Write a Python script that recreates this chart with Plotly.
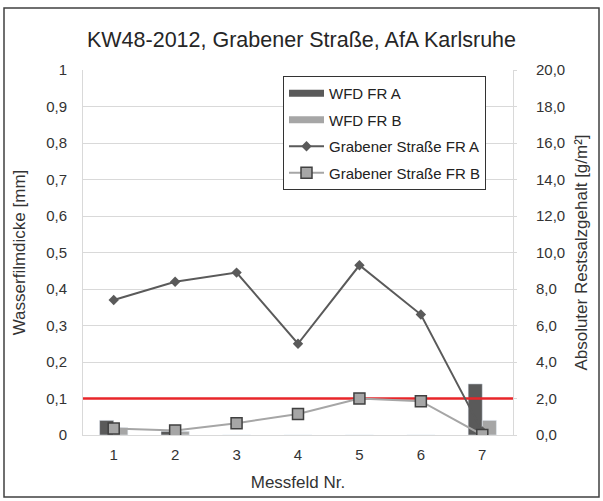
import plotly.graph_objects as go

# ---- data ----
messfeld = [1, 2, 3, 4, 5, 6, 7]
wfd_fr_a = [0.04, 0.01, 0.0, 0.0, 0.0, 0.0, 0.14]        # mm (left axis)
wfd_fr_b = [0.02, 0.01, 0.0, 0.0, 0.0, 0.0, 0.04]        # mm (left axis)
salz_fr_a = [7.4, 8.4, 8.9, 5.0, 9.3, 6.6, 0.2]          # g/m² (right axis)
salz_fr_b = [0.35, 0.25, 0.65, 1.15, 2.0, 1.85, 0.0]     # g/m² (right axis)
grenzwert_mm = 0.1

left_ticks = [0, 0.1, 0.2, 0.3, 0.4, 0.5, 0.6, 0.7, 0.8, 0.9, 1]
left_labels = ["0", "0,1", "0,2", "0,3", "0,4", "0,5", "0,6", "0,7", "0,8", "0,9", "1"]
right_ticks = [0, 2, 4, 6, 8, 10, 12, 14, 16, 18, 20]
right_labels = ["0,0", "2,0", "4,0", "6,0", "8,0", "10,0", "12,0", "14,0", "16,0", "18,0", "20,0"]

x_range = [0.5, 7.5]
bar_w = 0.23

FONT = "Liberation Sans, Arial, sans-serif"
DARK = "#5a5a5a"
LIGHT = "#a6a6a6"
GRID = "#d9d9d9"
TXT = "#333333"

fig = go.Figure()

fig.add_trace(go.Bar(x=messfeld, y=wfd_fr_a, name="WFD FR A", marker_color=DARK,
                     width=bar_w, offset=-bar_w, yaxis="y", showlegend=False))
fig.add_trace(go.Bar(x=messfeld, y=wfd_fr_b, name="WFD FR B", marker_color=LIGHT,
                     width=bar_w, offset=0, yaxis="y", showlegend=False))
fig.add_trace(go.Scatter(x=x_range, y=[grenzwert_mm, grenzwert_mm], mode="lines",
                         line=dict(color="#e8262a", width=2.5), showlegend=False,
                         hoverinfo="skip", yaxis="y"))
# legend-only entries for the bars (thick bar-like swatches)
fig.add_trace(go.Scatter(x=[None], y=[None], mode="lines", name="WFD FR A",
                         line=dict(color=DARK, width=7), legendgroup="a", yaxis="y"))
fig.add_trace(go.Scatter(x=[None], y=[None], mode="lines", name="WFD FR B",
                         line=dict(color=LIGHT, width=7), legendgroup="b", yaxis="y"))
fig.add_trace(go.Scatter(x=messfeld, y=salz_fr_a, name="Grabener Straße FR A",
                         mode="lines+markers", yaxis="y2", legendgroup="c",
                         line=dict(color=DARK, width=2),
                         marker=dict(symbol="diamond", size=8, color=DARK)))
fig.add_trace(go.Scatter(x=messfeld, y=salz_fr_b, name="Grabener Straße FR B",
                         mode="lines+markers", yaxis="y2", legendgroup="d",
                         line=dict(color=LIGHT, width=2),
                         marker=dict(symbol="square", size=11, color=LIGHT,
                                     line=dict(color="#404040", width=1.5))))

# plot area: x 83..513, y 70..435
L, R, T, B = 83, 90, 70, 66
W, H = 603, 501
pw, ph = W - L - R, H - T - B


def px_x(p):
    return (p - L) / pw


def px_y(p):
    return (H - B - p) / ph


fig.update_layout(
    width=W, height=H,
    margin=dict(l=L, r=R, t=T, b=B),
    paper_bgcolor="white", plot_bgcolor="white",
    font=dict(family=FONT, color=TXT, size=15),
    barmode="overlay",
    title=dict(text="KW48-2012, Grabener Straße, AfA Karlsruhe",
               x=0.5, xanchor="center", y=1 - 39 / H, yanchor="middle",
               font=dict(size=21.5, color="#262626")),
    xaxis=dict(range=x_range, tickvals=messfeld, showgrid=False,
               showline=True, linecolor=GRID, linewidth=1, ticks="",
               zeroline=False, tickfont=dict(size=15), ticklabelstandoff=6,
               title=dict(text="Messfeld Nr.", font=dict(size=17), standoff=14)),
    yaxis=dict(range=[0, 1], tickvals=left_ticks, ticktext=left_labels,
               showgrid=True, gridcolor=GRID, gridwidth=1,
               showline=True, linecolor=GRID, zeroline=False,
               ticks="", ticklabelstandoff=12,
               tickfont=dict(size=15),
               title=dict(text="Wasserfilmdicke [mm]", font=dict(size=17), standoff=16)),
    yaxis2=dict(range=[0, 20], tickvals=right_ticks, ticktext=right_labels,
                overlaying="y", side="right", showgrid=False,
                showline=True, linecolor=GRID, zeroline=False,
                ticks="outside", ticklen=3, tickcolor=GRID, ticklabelstandoff=16,
                tickfont=dict(size=15),
                title=dict(text="Absoluter Restsalzgehalt [g/m²]", font=dict(size=17), standoff=10)),
    legend=dict(x=px_x(283), y=px_y(76), xanchor="left", yanchor="top",
                bgcolor="white", bordercolor="#333333", borderwidth=1,
                font=dict(size=15, color="#222222"), tracegroupgap=4,
                traceorder="grouped", itemwidth=35),
    showlegend=True,
)

# outer frame
fig.add_shape(type="rect", xref="paper", yref="paper",
              x0=px_x(4), x1=px_x(599), y0=px_y(497), y1=px_y(8),
              line=dict(color="#404040", width=1.5), fillcolor="rgba(0,0,0,0)")

fig.write_html("out.html", config={"displayModeBar": False},
               post_script="document.body.style.margin='0';document.body.style.overflow='hidden';")
